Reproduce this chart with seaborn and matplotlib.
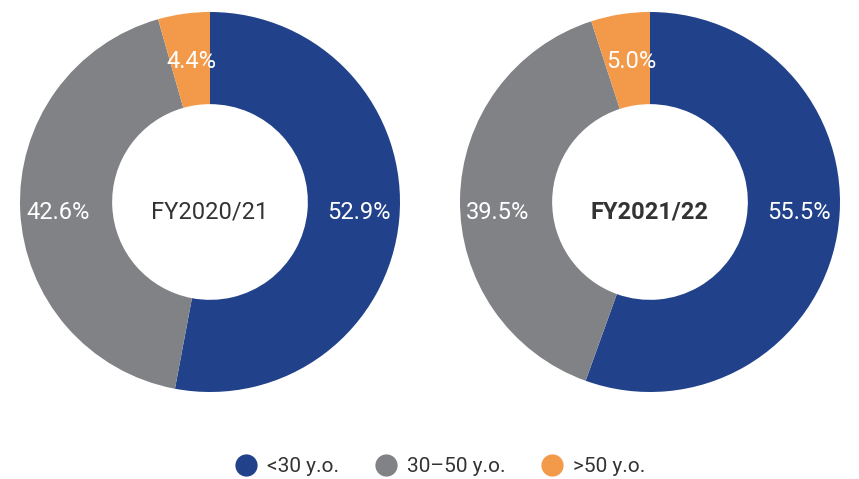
import matplotlib
matplotlib.use("Agg")
import matplotlib.pyplot as plt
import seaborn as sns
from matplotlib.lines import Line2D

# data
groups = ["<30 y.o.", "30–50 y.o.", ">50 y.o."]
fy2021 = [52.9, 42.6, 4.4]
fy2122 = [55.5, 39.5, 5.0]
years = ["FY2020/21", "FY2021/22"]

sns.set_theme(style="white")
plt.rcParams["font.family"] = ["Roboto", "DejaVu Sans"]
colors = sns.color_palette(["#21428a", "#808285", "#f29a4a"])

fig = plt.figure(figsize=(8.59, 4.79), dpi=100)
W, H = 859, 479
R = 190

# where the % labels sit inside the ring (axes units, radius = 1)
label_spots = [(0.785, -0.053), (-0.80, -0.053), (-0.10, 0.742)]

def donut(cx, cy, vals, title, bold):
    ax = fig.add_axes([(cx - R) / W, (H - cy - R) / H, 2 * R / W, 2 * R / H])
    ax.pie(vals, colors=colors, startangle=90, counterclock=False,
           wedgeprops=dict(width=0.485, edgecolor="none"))
    for v, (x, y) in zip(vals, label_spots):
        ax.text(x, y, f"{v:.1f}%", ha="center", va="center",
                color="white", fontsize=17)
    ax.text(0, -0.053, title, ha="center", va="center", fontsize=17,
            color="#333333", fontweight="bold" if bold else "normal")
    ax.set_xlim(-1, 1)
    ax.set_ylim(-1, 1)
    ax.set_aspect("equal")
    ax.axis("off")

donut(210, 202, fy2021, years[0], False)
donut(650, 202, fy2122, years[1], True)

handles = [Line2D([], [], marker="o", linestyle="", markersize=16,
                  markerfacecolor=c, markeredgecolor="none") for c in colors]
fig.legend(handles, groups, loc="center", bbox_to_anchor=(440 / W, 1 - 467 / H),
           ncol=3, frameon=False, fontsize=15, labelcolor="#333333",
           handletextpad=0.45, columnspacing=1.7, handlelength=1.1)

fig.savefig("out.png", dpi=100)
